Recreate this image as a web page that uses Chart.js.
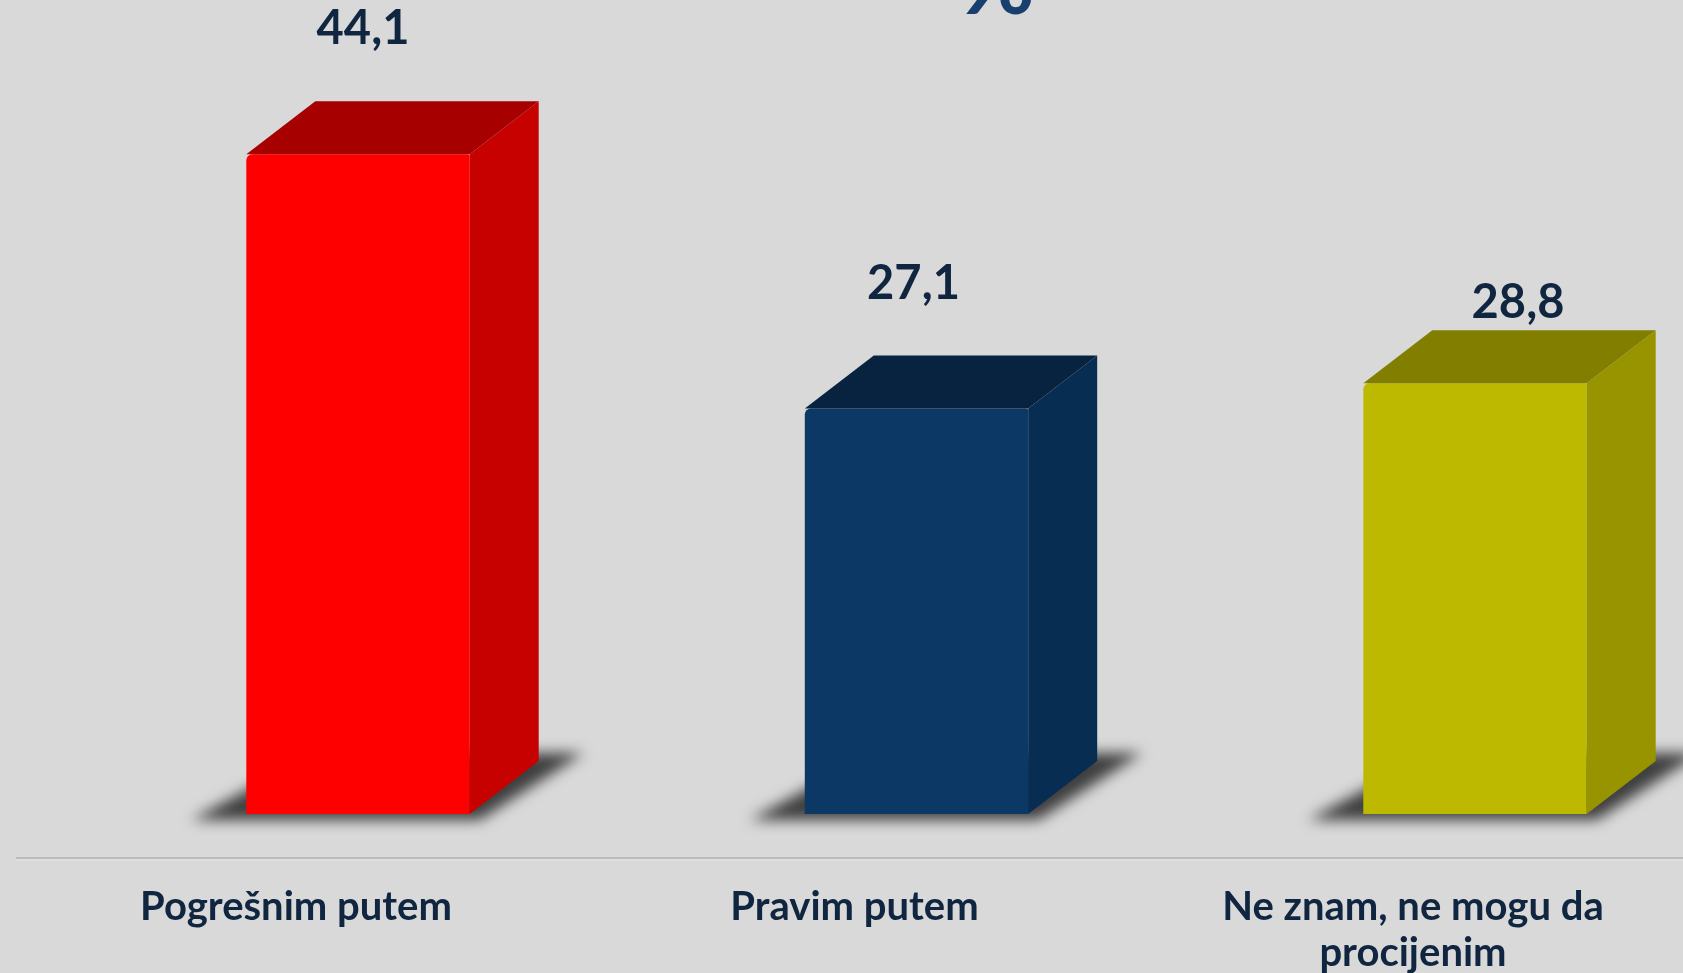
<!DOCTYPE html>
<html><head><meta charset="utf-8">
<script src="https://cdn.jsdelivr.net/npm/chart.js@4.4.1/dist/chart.umd.min.js"></script>
<style>
html,body{margin:0;padding:0;background:#d9d9d9;overflow:hidden}
#wrap{width:1683px;height:973px;position:relative}
</style></head>
<body><div id="wrap"><canvas id="c" width="1683" height="973"></canvas></div>
<script>
// ---- data ----
const categories = ['Pogrešnim putem', 'Pravim putem', ['Ne znam, ne mogu da', 'procijenim']];
const values = [44.1, 27.1, 28.8];
const valueLabels = ['44,1', '27,1', '28,8'];
const titleText = '%';

// ---- styles ----
const frontColors = ['#ff0000', '#0b3864', '#bdb900'];
const sideColors  = ['#c70000', '#072d53', '#989400'];
const topColors   = ['#a60000', '#08233f', '#817e00'];
const textColor = '#10253f';

const bar3d = {
  id: 'bar3d',
  beforeDatasetsDraw(chart, args, opts) {
    const ctx = chart.ctx;
    const meta = chart.getDatasetMeta(0);
    ctx.save();
    ctx.filter = 'blur(7px)';
    ctx.fillStyle = 'rgba(45,45,45,0.9)';
    meta.data.forEach(b => {
      const x0 = b.x - b.width / 2, x1 = b.x + b.width / 2, yb = b.base;
      ctx.beginPath();
      ctx.moveTo(x0 - 55, yb + 6);
      ctx.lineTo(x1 + 10, yb + 6);
      ctx.lineTo(x1 + opts.dx + 45, yb - opts.dy - 8);
      ctx.lineTo(x0 + opts.dx, yb - opts.dy - 8);
      ctx.closePath();
      ctx.fill();
    });
    ctx.restore();
  },
  afterDatasetsDraw(chart, args, opts) {
    const ctx = chart.ctx;
    const meta = chart.getDatasetMeta(0);
    const dx = opts.dx, dy = opts.dy;
    meta.data.forEach((b, i) => {
      const x0 = b.x - b.width / 2, x1 = b.x + b.width / 2, y = b.y, yb = b.base;
      ctx.save();
      // side face
      ctx.fillStyle = sideColors[i];
      ctx.beginPath();
      ctx.moveTo(x1, y);
      ctx.lineTo(x1 + dx, y - dy);
      ctx.lineTo(x1 + dx, yb - dy);
      ctx.lineTo(x1, yb);
      ctx.closePath();
      ctx.fill();
      // top face
      ctx.fillStyle = topColors[i];
      ctx.beginPath();
      ctx.moveTo(x0, y);
      ctx.lineTo(x1, y);
      ctx.lineTo(x1 + dx, y - dy);
      ctx.lineTo(x0 + dx, y - dy);
      ctx.closePath();
      ctx.fill();
      // value label
      ctx.fillStyle = textColor;
      ctx.font = 'bold 47px Lato';
      ctx.textAlign = 'center';
      ctx.textBaseline = 'middle';
      const n = opts.nudge[i];
      ctx.fillText(valueLabels[i], b.x + n[0], y - dy - 72 + n[1]);
      ctx.restore();
    });
  },
  afterDraw(chart) {
    const ctx = chart.ctx;
    const ya = chart.chartArea.bottom + 44;
    ctx.save();
    ctx.strokeStyle = '#bcbcbc';
    ctx.lineWidth = 2;
    ctx.beginPath();
    ctx.moveTo(16, ya);
    ctx.lineTo(chart.width, ya);
    ctx.stroke();
    ctx.strokeStyle = '#e6e6e6';
    ctx.lineWidth = 1;
    ctx.beginPath();
    ctx.moveTo(16, ya + 2);
    ctx.lineTo(chart.width, ya + 2);
    ctx.stroke();
    // title (mostly cut off at top)
    ctx.fillStyle = '#17406e';
    ctx.font = 'bold 92px Lato';
    ctx.textAlign = 'center';
    ctx.textBaseline = 'alphabetic';
    ctx.fillText(titleText, 997, 14);
    ctx.restore();
  }
};

new Chart(document.getElementById('c'), {
  type: 'bar',
  data: {
    labels: categories,
    datasets: [{
      data: values,
      backgroundColor: frontColors,
      borderWidth: 0,
      borderRadius: {topLeft: 6, topRight: 2, bottomLeft: 0, bottomRight: 0},
      borderSkipped: false,
      categoryPercentage: 0.4,
      barPercentage: 1,
      clip: false
    }]
  },
  options: {
    responsive: false,
    animation: false,
    devicePixelRatio: 1,
    layout: {padding: {left: 358, right: 208, top: 66, bottom: 0}},
    plugins: {
      legend: {display: false},
      tooltip: {enabled: false},
      title: {display: false},
      bar3d: {dx: 69, dy: 53, nudge: [[5, 0], [-3, 0], [43, 45]]}
    },
    scales: {
      x: {
        offset: false,
        grid: {display: false, drawTicks: false},
        border: {display: false},
        ticks: {
          color: textColor,
          font: {family: 'Lato', weight: 'bold', size: 40, lineHeight: 1.15},
          padding: 70,
          labelOffset: -62,
          maxRotation: 0,
          autoSkip: false
        },
        afterFit(s) { s.height = 159; s.paddingLeft = 0; s.paddingRight = 0; }
      },
      y: {display: false, min: 0, max: 50}
    }
  },
  plugins: [bar3d]
});
</script>
</body></html>
